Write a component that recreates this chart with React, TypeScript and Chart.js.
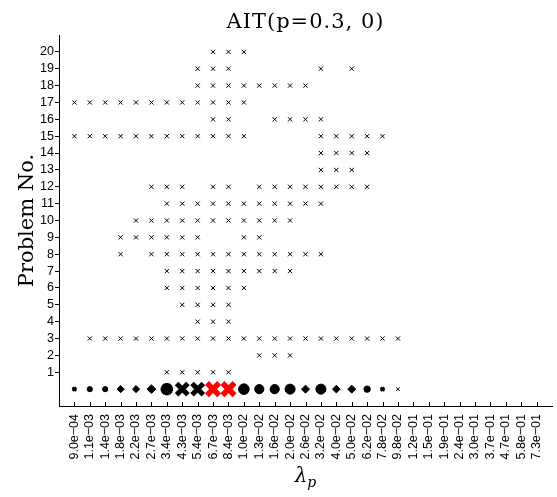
import React, { useEffect, useRef } from 'react';
import { Chart, registerables } from 'chart.js';

Chart.register(...registerables);

// Category labels along the x axis (lambda_p values)
const xLabels = [
  '9.0e−04', '1.1e−03', '1.4e−03', '1.8e−03', '2.2e−03', '2.7e−03', '3.4e−03', '4.3e−03',
  '5.4e−03', '6.7e−03', '8.4e−03', '1.0e−02', '1.3e−02', '1.6e−02', '2.0e−02', '2.6e−02',
  '3.2e−02', '4.0e−02', '5.0e−02', '6.2e−02', '7.8e−02', '9.8e−02', '1.2e−01', '1.5e−01',
  '1.9e−01', '2.4e−01', '3.0e−01', '3.7e−01', '4.7e−01', '5.8e−01', '7.3e−01',
];

// Problem numbers shown on the y axis
const yTicks = [1, 2, 3, 4, 5, 6, 7, 8, 9, 10, 11, 12, 13, 14, 15, 16, 17, 18, 19, 20];

// For each problem: indices (into xLabels) where a mark appears
const prob1 = [6, 7, 8, 9, 10];
const prob2 = [12, 13, 14];
const prob3 = [1, 2, 3, 4, 5, 6, 7, 8, 9, 10, 11, 12, 13, 14, 15, 16, 17, 18, 19, 20, 21];
const prob4 = [8, 9, 10];
const prob5 = [7, 8, 9, 10];
const prob6 = [6, 7, 8, 9, 10, 11];
const prob7 = [6, 7, 8, 9, 10, 11, 12, 13, 14];
const prob8 = [3, 5, 6, 7, 8, 9, 10, 11, 12, 13, 14, 15, 16];
const prob9 = [3, 4, 5, 6, 7, 8, 11, 12];
const prob10 = [4, 5, 6, 7, 8, 9, 10, 11, 12, 13, 14];
const prob11 = [6, 7, 8, 9, 10, 11, 12, 13, 14, 15, 16];
const prob12 = [5, 6, 7, 9, 10, 12, 13, 14, 15, 16, 17, 18, 19];
const prob13 = [16, 17, 18];
const prob14 = [16, 17, 18, 19];
const prob15 = [0, 1, 2, 3, 4, 5, 6, 7, 8, 9, 10, 11, 16, 17, 18, 19, 20];
const prob16 = [9, 10, 13, 14, 15, 16];
const prob17 = [0, 1, 2, 3, 4, 5, 6, 7, 8, 9, 10, 11];
const prob18 = [8, 9, 10, 11, 12, 13, 14, 15];
const prob19 = [8, 9, 10, 16, 18];
const prob20 = [9, 10, 11];
const problems = [
  prob1, prob2, prob3, prob4, prob5, prob6, prob7, prob8, prob9, prob10,
  prob11, prob12, prob13, prob14, prob15, prob16, prob17, prob18, prob19, prob20,
];

// Summary row (y = 0): marker kind and weight for each lambda
const summaryKind = [
  'xb', 'dot', 'dot', 'dia', 'dia', 'dia', 'star', 'X', 'X', 'best', 'best',
  'dot', 'dot', 'dot', 'dot', 'dia', 'dot', 'dia', 'dia', 'dot', 'xb', 'xt',
];
const summaryWeight = [
  2.6, 2.6, 2.6, 3.6, 3.6, 4.4, 6.2, 8, 8, 8.6, 8.6,
  5.3, 4.6, 4.6, 5, 4, 5, 3.8, 4, 3.2, 2.6, 2.6,
];

const titleText = 'AIT(p=0.3, 0)';

export default function App() {
  const ref = useRef<HTMLCanvasElement>(null);

  useEffect(() => {
    if (!ref.current) return;
    const gridPts: { x: number; y: number }[] = [];
    problems.forEach((cols, k) => cols.forEach((c) => gridPts.push({ x: c, y: yTicks[k] })));
    const sumPts = summaryKind.map((_, i) => ({ x: i, y: 0 }));

    const styleOf = (k: string) =>
      k === 'dot' ? 'circle' : k === 'dia' ? 'rectRot' : k === 'star' ? 'star' : 'crossRot';
    const bwOf = (k: string) =>
      k === 'xb' ? 2.5 : k === 'xt' ? 1 : k === 'star' ? 4 : k === 'X' ? 5 : k === 'best' ? 5.5 : 1;
    const colOf = (k: string) => (k === 'best' ? '#ff0000' : '#000000');

    const axisDecor = {
      id: 'axisDecor',
      afterDraw(chart: any) {
        const { ctx, chartArea, scales } = chart;
        const x = scales.x;
        ctx.save();
        ctx.strokeStyle = '#000';
        ctx.lineWidth = 1;
        xLabels.forEach((_, i) => {
          const px = Math.round(x.getPixelForValue(i)) + 0.5;
          ctx.beginPath();
          ctx.moveTo(px, chartArea.bottom);
          ctx.lineTo(px, chartArea.bottom - 4);
          ctx.stroke();
        });
        const cx = (chartArea.left + chartArea.right) / 2;
        ctx.fillStyle = '#000';
        ctx.textBaseline = 'alphabetic';
        // chart title, centred over the plot area
        ctx.font = '21px "DejaVu Serif"';
        ctx.textAlign = 'center';
        (ctx as any).letterSpacing = '1px';
        ctx.fillText(titleText, cx, 28);
        (ctx as any).letterSpacing = '0px';
        // x-axis title: lambda with subscript p
        ctx.textAlign = 'left';
        const bigFont = 'italic 20px "DejaVu Serif"';
        const smallFont = 'italic 14px "DejaVu Serif"';
        ctx.font = bigFont;
        const w1 = ctx.measureText('λ').width;
        ctx.font = smallFont;
        const w2 = ctx.measureText('p').width;
        const start = cx - (w1 + w2) / 2;
        ctx.font = bigFont;
        ctx.fillText('λ', start, 482);
        ctx.font = smallFont;
        ctx.fillText('p', start + w1, 487);
        ctx.restore();
      },
    };

    const chart = new Chart(ref.current, {
      type: 'scatter',
      data: {
        datasets: [
          {
            data: sumPts,
            pointStyle: summaryKind.map(styleOf) as any,
            pointRadius: summaryWeight,
            pointBorderWidth: summaryKind.map(bwOf),
            pointBackgroundColor: summaryKind.map(colOf),
            pointBorderColor: summaryKind.map(colOf),
            showLine: false,
          },
          {
            data: gridPts,
            pointStyle: 'crossRot',
            pointRadius: 3,
            pointBorderWidth: 1,
            pointBorderColor: '#000',
            pointBackgroundColor: '#000',
            showLine: false,
          },
        ],
      },
      options: {
        responsive: false,
        devicePixelRatio: 1,
        animation: false,
        events: [],
        layout: { autoPadding: false, padding: { left: 0, right: 5, top: 35, bottom: 0 } },
        plugins: {
          legend: { display: false },
          tooltip: { enabled: false },
          title: { display: false },
        },
        scales: {
          x: {
            type: 'linear',
            min: -1,
            max: 31,
            afterBuildTicks: (s: any) => {
              s.ticks = xLabels.map((_, i) => ({ value: i }));
            },
            afterFit: (s: any) => {
              s.height = 91;
              s.paddingLeft = 0;
              s.paddingRight = 0;
            },
            grid: { display: false },
            border: { display: true, color: '#000', width: 1 },
            ticks: {
              autoSkip: false,
              minRotation: 90,
              maxRotation: 90,
              padding: 0,
              color: '#000',
              font: { family: '"Liberation Sans"', size: 12.5 },
              callback: (v: any) => xLabels[v] ?? '',
            },
          },
          y: {
            type: 'linear',
            min: -1,
            max: 21,
            afterBuildTicks: (s: any) => {
              s.ticks = yTicks.map((v) => ({ value: v }));
            },
            afterFit: (s: any) => {
              s.width = 59;
              s.paddingTop = 0;
              s.paddingBottom = 0;
            },
            grid: {
              display: true,
              drawOnChartArea: false,
              drawTicks: true,
              tickLength: 4,
              color: '#000',
            },
            border: { display: true, color: '#000', width: 1 },
            ticks: {
              padding: 1,
              color: '#000',
              font: { family: '"Liberation Sans"', size: 12.5 },
              callback: (v: any) => String(v),
            },
            title: {
              display: true,
              text: 'Problem No.',
              color: '#000',
              font: { family: '"DejaVu Serif"', size: 21, lineHeight: 1.2 },
              padding: { top: 15, bottom: 0 },
            },
          },
        },
      },
      plugins: [axisDecor],
    });
    return () => chart.destroy();
  }, []);

  return (
    <div style={{ position: 'fixed', left: 0, top: 0, width: 557, height: 497, background: '#fff' }}>
      <canvas ref={ref} width={557} height={497} style={{ display: 'block' }} />
    </div>
  );
}
